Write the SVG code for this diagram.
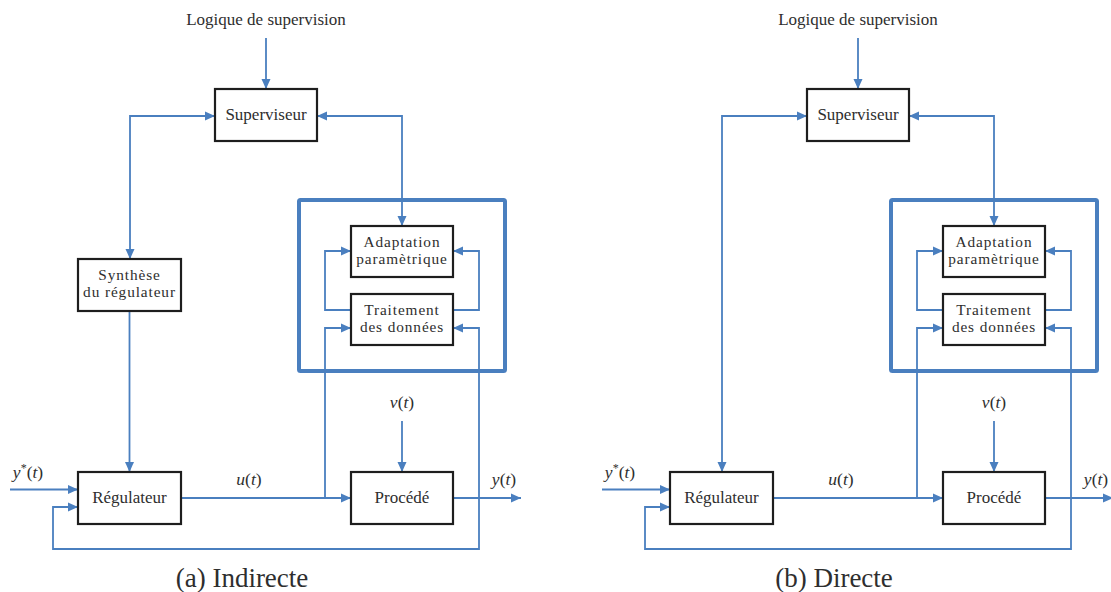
<svg xmlns="http://www.w3.org/2000/svg" width="1111" height="592" viewBox="0 0 1111 592">
<style>
.c{fill:none;stroke:#4a7fbf;stroke-width:1.8;stroke-linejoin:miter}
.a{marker-end:url(#ah)}
.b{marker-start:url(#ah);marker-end:url(#ah)}
.box{fill:#fff;stroke:#1e1e1e;stroke-width:2.2}
.frame{fill:none;stroke:#4a7fbf;stroke-width:4;stroke-linejoin:round}
text{font-family:'Liberation Serif','DejaVu Serif',serif;fill:#2e2e2e;text-anchor:middle}
.t{font-size:17px}
.t2{font-size:15.3px;letter-spacing:0.9px}
.m{font-size:17.5px}
.i{font-style:italic}
.cap{font-size:27px}
</style>
<defs>
<marker id="ah" viewBox="0 0 10 10" markerUnits="userSpaceOnUse" markerWidth="10" markerHeight="10" refX="10" refY="5" orient="auto-start-reverse">
<path d="M0,0.5 L10,5 L0,9.5 z" fill="#4a7fbf"/>
</marker>
</defs>

<g id="panel-a">
<g id="connectors-a">
<path class="c a" d="M266,38 V89"/>
<path class="c b" d="M215,116 H130 V259"/>
<path class="c b" d="M317,116 H402 V226"/>
<path class="c a" d="M351,310 H325 V251 H351"/>
<path class="c a" d="M453,310 H479 V251 H453"/>
<path class="c a" d="M129.5,311 V472"/>
<path class="c a" d="M10,489.5 H78"/>
<path class="c a" d="M181,498 H351"/>
<path class="c a" d="M325,498 V328 H351"/>
<path class="c a" d="M402,421 V472"/>
<path class="c a" d="M453,498 H521"/>
<path class="c a" d="M479,498 V328 H453"/>
<path class="c a" d="M479,498 V549 H53 V507 H78"/>
</g>
<g id="frame-a"><rect class="frame" x="299" y="200" width="206" height="171" rx="1.5"/></g>
<g id="logique-a"><text class="t" x="266" y="25">Logique de supervision</text></g>
<g id="superviseur-a"><rect class="box" x="215" y="89" width="102" height="52"/><text class="t" x="266" y="119.5">Superviseur</text></g>
<g id="synthese-a"><rect class="box" x="78" y="259" width="103" height="52"/><text class="t2" x="129.5" y="280">Synthèse</text><text class="t2" x="129.5" y="297">du régulateur</text></g>
<g id="adaptation-a"><rect class="box" x="351" y="226" width="102" height="51"/><text class="t2" x="402" y="246.5">Adaptation</text><text class="t2" x="402" y="263.5">paramètrique</text></g>
<g id="traitement-a"><rect class="box" x="351" y="294" width="102" height="51"/><text class="t2" x="402" y="315">Traitement</text><text class="t2" x="402" y="332">des données</text></g>
<g id="regulateur-a"><rect class="box" x="78" y="472" width="103" height="52"/><text class="t" x="129.5" y="503">Régulateur</text></g>
<g id="procede-a"><rect class="box" x="351" y="472" width="102" height="52"/><text class="t" x="402" y="503">Procédé</text></g>
<g id="labels-a">
<text class="m" x="28" y="478"><tspan class="i">y</tspan><tspan font-size="12" dy="-6">*</tspan><tspan dy="6">(</tspan><tspan class="i">t</tspan>)</text>
<text class="m" x="249" y="485"><tspan class="i">u</tspan>(<tspan class="i">t</tspan>)</text>
<text class="m" x="402" y="408"><tspan class="i">v</tspan>(<tspan class="i">t</tspan>)</text>
<text class="m" x="504" y="485"><tspan class="i">y</tspan>(<tspan class="i">t</tspan>)</text>
<text class="cap" x="242" y="587">(a) Indirecte</text>
</g>
</g>

<g id="panel-b" transform="translate(592,0)">
<g id="connectors-b">
<path class="c a" d="M266,38 V89"/>
<path class="c b" d="M215,116 H130 V472"/>
<path class="c b" d="M317,116 H402 V226"/>
<path class="c a" d="M351,310 H325 V251 H351"/>
<path class="c a" d="M453,310 H479 V251 H453"/>
<path class="c a" d="M10,489.5 H78"/>
<path class="c a" d="M181,498 H351"/>
<path class="c a" d="M325,498 V328 H351"/>
<path class="c a" d="M402,421 V472"/>
<path class="c a" d="M453,498 H521"/>
<path class="c a" d="M479,498 V328 H453"/>
<path class="c a" d="M479,498 V549 H53 V507 H78"/>
</g>
<g id="frame-b"><rect class="frame" x="299" y="200" width="206" height="171" rx="1.5"/></g>
<g id="logique-b"><text class="t" x="266" y="25">Logique de supervision</text></g>
<g id="superviseur-b"><rect class="box" x="215" y="89" width="102" height="52"/><text class="t" x="266" y="119.5">Superviseur</text></g>
<g id="adaptation-b"><rect class="box" x="351" y="226" width="102" height="51"/><text class="t2" x="402" y="246.5">Adaptation</text><text class="t2" x="402" y="263.5">paramètrique</text></g>
<g id="traitement-b"><rect class="box" x="351" y="294" width="102" height="51"/><text class="t2" x="402" y="315">Traitement</text><text class="t2" x="402" y="332">des données</text></g>
<g id="regulateur-b"><rect class="box" x="78" y="472" width="103" height="52"/><text class="t" x="129.5" y="503">Régulateur</text></g>
<g id="procede-b"><rect class="box" x="351" y="472" width="102" height="52"/><text class="t" x="402" y="503">Procédé</text></g>
<g id="labels-b">
<text class="m" x="28" y="478"><tspan class="i">y</tspan><tspan font-size="12" dy="-6">*</tspan><tspan dy="6">(</tspan><tspan class="i">t</tspan>)</text>
<text class="m" x="249" y="485"><tspan class="i">u</tspan>(<tspan class="i">t</tspan>)</text>
<text class="m" x="402" y="408"><tspan class="i">v</tspan>(<tspan class="i">t</tspan>)</text>
<text class="m" x="504" y="485"><tspan class="i">y</tspan>(<tspan class="i">t</tspan>)</text>
<text class="cap" x="242" y="587">(b) Directe</text>
</g>
</g>
</svg>
